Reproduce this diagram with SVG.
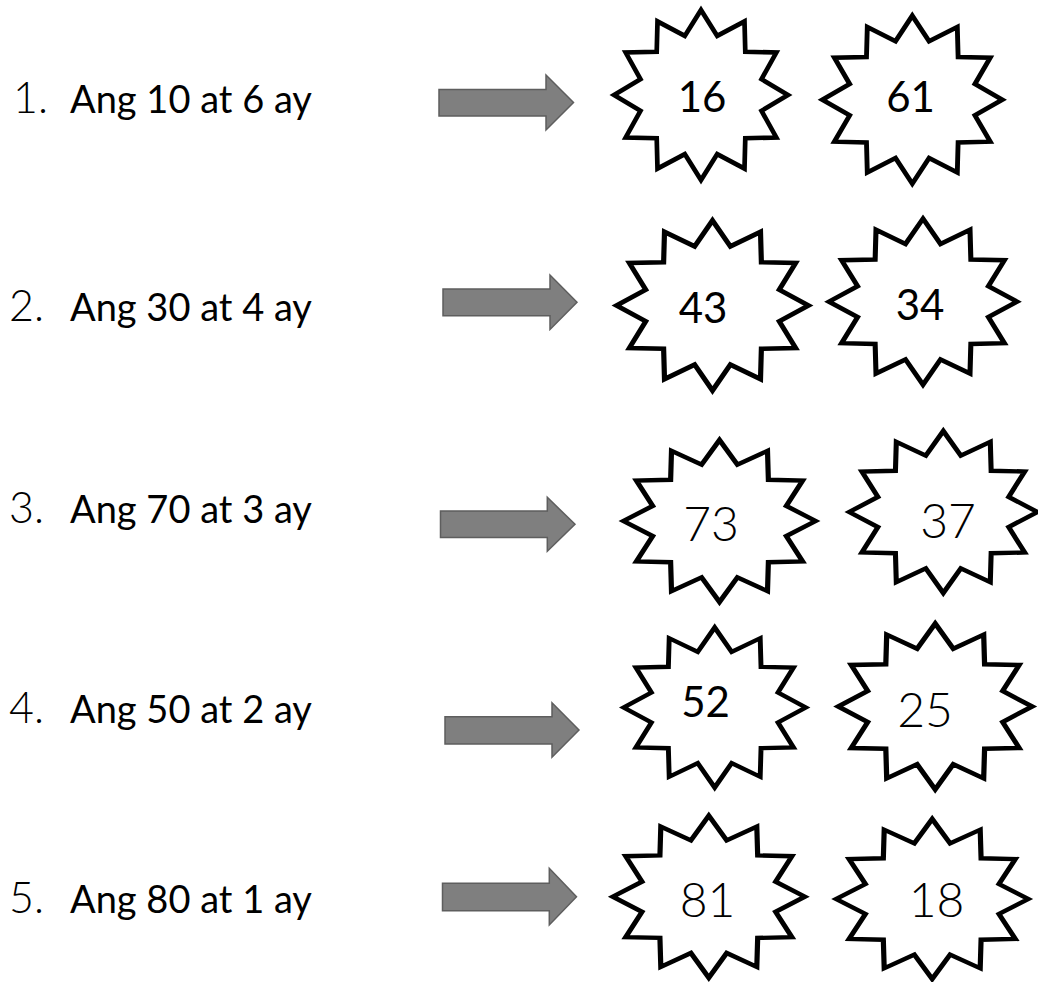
<svg xmlns="http://www.w3.org/2000/svg" xmlns:xlink="http://www.w3.org/1999/xlink" width="1038" height="982" viewBox="0 0 1038 982">
<style>
.lbl{font-family:Lato,"Liberation Sans",sans-serif;font-size:38px;fill:#000}
.num{font-family:Lato,"Liberation Sans",sans-serif;font-weight:300;font-size:43px;fill:#000}
.cal{font-family:Lato,"Liberation Sans",sans-serif;font-size:42px;fill:#000;text-anchor:middle}
.cg{font-family:Lato,"Liberation Sans",sans-serif;font-weight:300;font-size:48px;fill:#000;text-anchor:middle}
.arrow{fill:#7f7f7f;stroke:#5e5e5e;stroke-width:1.5;stroke-linejoin:miter}
.star{fill:#fff;stroke:#000;stroke-width:5.4;stroke-linejoin:miter;stroke-miterlimit:10}
</style>
<defs>
<polygon id="star12" class="star" points="0,-100 18.64,-69.55 50,-86.6 50.91,-50.91 86.6,-50 69.55,-18.64 100,0 69.55,18.64 86.6,50 50.91,50.91 50,86.6 18.64,69.55 0,100 -18.64,69.55 -50,86.6 -50.91,50.91 -86.6,50 -69.55,18.64 -100,0 -69.55,-18.64 -86.6,-50 -50.91,-50.91 -50,-86.6 -18.64,-69.55"/>
</defs>
<rect width="1038" height="982" fill="#fff"/>
<g id="labels">
<g id="label1"><text class="num" x="13" y="113">1.</text><text class="lbl" x="70" y="113">Ang 10 at 6 ay</text></g>
<g id="label2"><text class="num" x="9" y="321">2.</text><text class="lbl" x="70" y="321">Ang 30 at 4 ay</text></g>
<g id="label3"><text class="num" x="9" y="523">3.</text><text class="lbl" x="70" y="523">Ang 70 at 3 ay</text></g>
<g id="label4"><text class="num" x="9" y="723">4.</text><text class="lbl" x="70" y="723">Ang 50 at 2 ay</text></g>
<g id="label5"><text class="num" x="9" y="913">5.</text><text class="lbl" x="70" y="913">Ang 80 at 1 ay</text></g>
</g>
<g id="connectors">
<polygon class="arrow" points="439,89.5 546,89.5 546,75 573.5,102.5 546,130 546,116 439,116"/>
<polygon class="arrow" points="443,289 550,289 550,275 577,302.3 550,329.5 550,315.7 443,315.7"/>
<polygon class="arrow" points="440.5,511 547.3,511 547.3,497.3 575,524.3 547.3,551.3 547.3,537.5 440.5,537.5"/>
<polygon class="arrow" points="445,716.7 552,716.7 552,702.7 579,730 552,757.3 552,744 445,744"/>
<polygon class="arrow" points="442.5,883.3 549.3,883.3 549.3,868.3 576.5,896.7 549.3,925 549.3,910.7 442.5,910.7"/>
</g>
<g id="star-16"><use xlink:href="#star12" transform="translate(701,95) scale(0.87,0.85)"/><text class="cal" x="702" y="112">16</text></g>
<g id="star-61"><use xlink:href="#star12" transform="translate(912.3,99.7) scale(0.90,0.84)"/><text class="cal" x="910.5" y="112">61</text></g>
<g id="star-43"><use xlink:href="#star12" transform="translate(712.5,305.5) scale(0.96,0.85)"/><text class="cal" x="703" y="323">43</text></g>
<g id="star-34"><use xlink:href="#star12" transform="translate(923,301.7) scale(0.94,0.83)"/><text class="cal" x="920" y="320">34</text></g>
<g id="star-73"><use xlink:href="#star12" transform="translate(719.5,521) scale(0.96,0.81)"/><text class="cg" x="711" y="540.5">73</text></g>
<g id="star-37"><use xlink:href="#star12" transform="translate(943.3,512) scale(0.94,0.81)"/><text class="cg" x="948" y="538">37</text></g>
<g id="star-52"><use xlink:href="#star12" transform="translate(714.7,707.5) scale(0.91,0.80)"/><text class="cal" x="705.5" y="717">52</text></g>
<g id="star-25"><use xlink:href="#star12" transform="translate(935.2,706.5) scale(0.97,0.83)"/><text class="cg" x="925" y="727">25</text></g>
<g id="star-81"><use xlink:href="#star12" transform="translate(708.8,896.7) scale(0.96,0.81)"/><text class="cg" x="707.5" y="917">81</text></g>
<g id="star-18"><use xlink:href="#star12" transform="translate(932.2,899) scale(0.96,0.80)"/><text class="cg" x="936.5" y="917">18</text></g>
</svg>
